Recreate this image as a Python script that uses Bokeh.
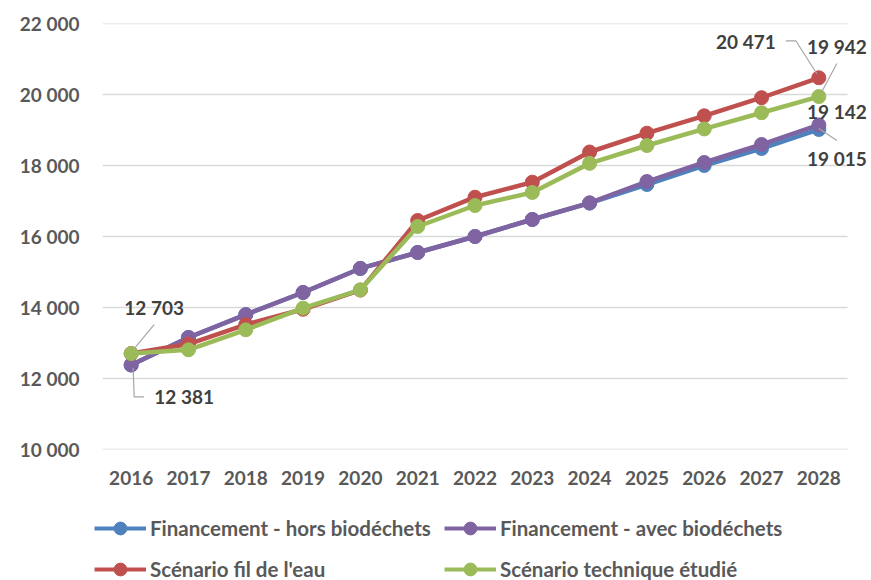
from bokeh.plotting import figure
from bokeh.layouts import column
from bokeh.models import ColumnDataSource, Legend, LegendItem, FixedTicker, Range1d
from bokeh.core.properties import value
from bokeh.embed import file_html
from bokeh.resources import INLINE

# ---------------- data ----------------
years = list(range(2016, 2029))
hors_bio = [12381, 13155, 13800, 14423, 15100, 15550, 16000, 16479, 16940, 17465, 18000, 18479, 19015]
avec_bio = [12381, 13155, 13800, 14423, 15100, 15550, 16000, 16479, 16949, 17549, 18085, 18592, 19142]
fil_eau = [12703, 12970, 13520, 13950, 14490, 16450, 17107, 17530, 18380, 18910, 19400, 19910, 20471]
tech_etudie = [12703, 12808, 13371, 13982, 14498, 16282, 16873, 17240, 18060, 18563, 19030, 19487, 19942]

series_names = ["Financement - hors biodéchets", "Financement - avec biodéchets",
                "Scénario fil de l'eau", "Scénario technique étudié"]
series_values = [hors_bio, avec_bio, fil_eau, tech_etudie]
series_colors = ["#4F81BD", "#8064A2", "#C0504D", "#9BBB59"]

y_ticks = [10000, 12000, 14000, 16000, 18000, 20000, 22000]
y_tick_labels = ["10 000", "12 000", "14 000", "16 000", "18 000", "20 000", "22 000"]
x_tick_labels = [str(y) for y in years]

# ---------------- layout ----------------
W = 871
H_MAIN, H_LEG = 495, 85
BL, BT, BB = 102, 23, 46
grid_w = 745                     # width of the gridded category area
px_per_year = grid_w / len(years)
frame_w = W - BL                 # frame runs to the right edge (room for labels)
frame_h = H_MAIN - BT - BB
x0 = years[0] - 0.5
x_end = years[-1] + 0.5
x1 = x0 + frame_w / px_per_year
y0, y1 = y_ticks[0], y_ticks[-1]


def dx(px):
    return px / px_per_year


def dy(py):  # screen px, downward positive
    return -py * (y1 - y0) / frame_h


def fmt(v):
    return f"{v:,}".replace(",", " ")


FONT = "Lato"
TICK_COLOR = "#595959"
LABEL_COLOR = "#404040"

p = figure(width=W, height=H_MAIN, output_backend="svg", toolbar_location=None,
           x_range=Range1d(x0, x1), y_range=Range1d(y0, y1),
           min_border_left=BL, min_border_right=0, min_border_top=BT, min_border_bottom=BB)
p.frame_align = False
p.outline_line_color = None
p.background_fill_color = "white"
p.border_fill_color = "white"

p.xgrid.grid_line_color = None
p.ygrid.grid_line_color = None
# horizontal grid lines limited to the category area
p.segment(x0=[x0] * len(y_ticks), x1=[x_end] * len(y_ticks), y0=y_ticks, y1=y_ticks,
          line_color="#D9D9D9", line_width=1.5)

p.yaxis.ticker = FixedTicker(ticks=y_ticks)
p.yaxis.major_label_overrides = dict(zip(y_ticks, y_tick_labels))
p.xaxis.ticker = FixedTicker(ticks=years)
p.xaxis.major_label_overrides = dict(zip(years, x_tick_labels))
for ax in (p.xaxis[0], p.yaxis[0]):
    ax.axis_line_color = None
    ax.major_tick_line_color = None
    ax.minor_tick_line_color = None
    ax.major_tick_out = 0
    ax.major_tick_in = 0
    ax.minor_tick_out = 0
    ax.major_label_text_font = FONT
    ax.major_label_text_font_style = "bold"
    ax.major_label_text_font_size = "19px"
    ax.major_label_text_color = TICK_COLOR
p.yaxis.major_label_standoff = 23
p.xaxis.major_label_standoff = 21

# legend-only figure (series drawn outside its ranges so only the legend shows)
p2 = figure(width=W, height=H_LEG, output_backend="svg", toolbar_location=None,
            x_range=Range1d(0, 1), y_range=Range1d(0, 1),
            x_axis_type=None, y_axis_type=None, min_border=0,
            min_border_left=0, min_border_right=0, min_border_top=0, min_border_bottom=0)
p2.frame_align = False
p2.outline_line_color = None
p2.xgrid.grid_line_color = None
p2.ygrid.grid_line_color = None

items = []
for name, vals, col in zip(series_names, series_values, series_colors):
    src = ColumnDataSource(dict(x=years, y=vals))
    p.line("x", "y", source=src, line_color=col, line_width=4.5)
    p.scatter("x", "y", source=src, size=14, fill_color=col, line_color=col)
    lr = p2.line("x", "y", source=src, line_color=col, line_width=4.2)
    sr = p2.scatter("x", "y", source=src, size=13, fill_color=col, line_color=col)
    items.append(LegendItem(label=name, renderers=[lr, sr]))

# ---------------- data labels ----------------
# (series index, point index, label offset px, leader polyline offsets px)
annotations = [
    (3, 0, (23, -46), [(23, -29), (3, -5)]),
    (1, 0, (53, 32), [(2, 3), (3, 32), (13, 32)]),
    (2, 12, (-73, -36), [(-33, -37), (-23, -37), (-2, -4)]),
    (3, 12, (18, -50), [(18, -33), (2, -3)]),
    (1, 12, (18, -13), None),
    (0, 12, (18, 29), [(0, -1), (18, 11)]),
]
lab_x, lab_y, lab_t = [], [], []
for si, pi, (ox, oy), leader in annotations:
    xv = years[pi]
    yv = series_values[si][pi]
    lab_x.append(xv + dx(ox))
    lab_y.append(yv + dy(oy))
    lab_t.append(fmt(yv))
    if leader:
        p.line([xv + dx(a) for a, b in leader], [yv + dy(b) for a, b in leader],
               line_color="#A6A6A6", line_width=1.2)

p.text(x=lab_x, y=lab_y, text=lab_t, text_font=value(FONT), text_font_style="bold",
       text_font_size="19px", text_color=LABEL_COLOR, text_align="center",
       text_baseline="middle")

# ---------------- legends ----------------
for its, vy in [(items[0:2], 36), (items[2:4], -5)]:
    lg = Legend(items=its, orientation="horizontal", location=(94, vy),
                glyph_width=52, glyph_height=32, label_height=32, label_standoff=4,
                label_width=290, spacing=4, padding=0, margin=0,
                border_line_color=None, background_fill_alpha=0,
                label_text_font=FONT, label_text_font_style="bold",
                label_text_font_size="20.5px", label_text_color=TICK_COLOR)
    p2.add_layout(lg, "center")

layout = column(p, p2, spacing=0)
open("out.html", "w").write(file_html(layout, INLINE))
